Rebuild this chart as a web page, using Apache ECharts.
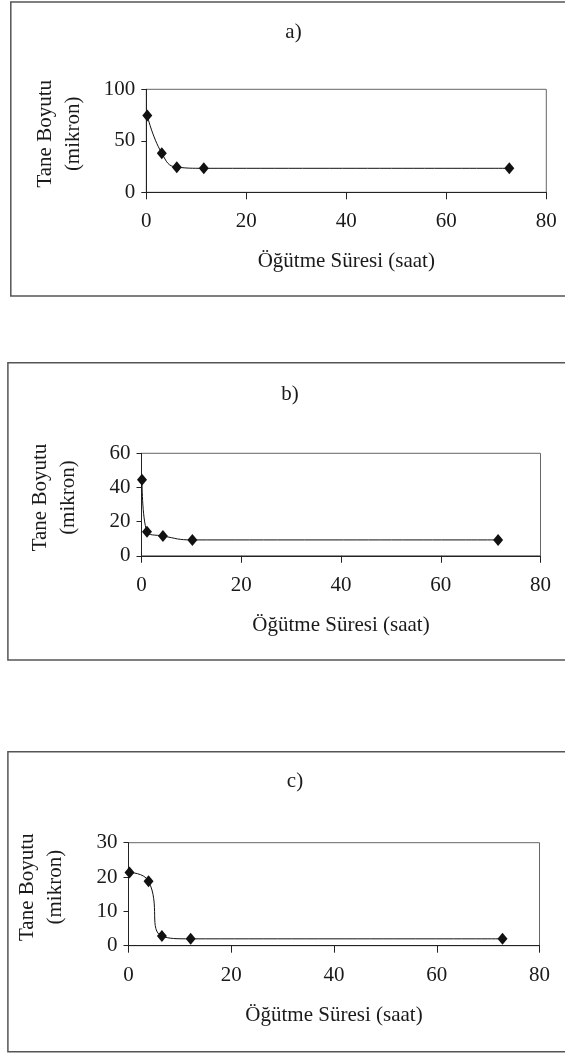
<!DOCTYPE html>
<html>
<head>
<meta charset="utf-8">
<script src="https://cdn.jsdelivr.net/npm/echarts@6/dist/echarts.min.js"></script>
<style>
html,body{margin:0;padding:0;background:#fff;}
#chart{width:565px;height:1057px;}
</style>
</head>
<body>
<div id="chart"></div>
<script>
// ---- data ----
const panelTitles = ['a)', 'b)', 'c)'];
const xName = 'Öğütme Süresi (saat)';
const yName = 'Tane Boyutu\n(mikron)';
const xTicks = [0, 20, 40, 60, 80];
const yMaxA = 100, yStepA = 50;
const yMaxB = 60, yStepB = 20;
const yMaxC = 30, yStepC = 10;
const timeA = [0.2, 3.1, 6.1, 11.5, 72.6];
const sizeA = [74.5, 37.9, 24.4, 23.3, 23.3];
const timeB = [0.1, 1.1, 4.3, 10.2, 71.5];
const sizeB = [44.5, 14.1, 11.6, 9.3, 9.3];
const timeC = [0.2, 3.9, 6.5, 12.1, 72.8];
const sizeC = [21.3, 18.8, 2.8, 2.0, 2.0];

const FONT = 'Liberation Serif';
const FS = 21;
const TXT = '#1a1a1a';

const grids = [
  {left: 146.3, top: 89.3, width: 400, height: 103},
  {left: 141.5, top: 453.3, width: 399, height: 102.5},
  {left: 128.5, top: 842.7, width: 411, height: 103}
];
const yMax = [yMaxA, yMaxB, yMaxC];
const yStep = [yStepA, yStepB, yStepC];
const xs = [timeA, timeB, timeC];
const ys = [sizeA, sizeB, sizeC];
const titleCenters = [[293.5, 22], [290, 384], [295, 771]];
const frames = [
  {x: 10.8, y: 2, h: 294},
  {x: 7.9, y: 362.7, h: 297.3},
  {x: 7.9, y: 751.7, h: 300}
];

const option = {
  animation: false,
  backgroundColor: '#fff',
  title: panelTitles.map((t, i) => ({
    text: t, left: titleCenters[i][0], top: titleCenters[i][1], textAlign: 'center', padding: 0,
    textStyle: {fontFamily: FONT, fontSize: FS, fontWeight: 'normal', color: TXT}
  })),
  grid: grids.map(g => Object.assign({show: true, borderColor: '#666', borderWidth: 1, backgroundColor: 'transparent'}, g)),
  xAxis: grids.map((g, i) => ({
    type: 'value', gridIndex: i, min: xTicks[0], max: xTicks[xTicks.length - 1], interval: 20,
    name: xName, nameLocation: 'middle', nameGap: 59,
    nameTextStyle: {fontFamily: FONT, fontSize: FS, color: TXT},
    axisLine: {show: true, onZero: false, lineStyle: {color: '#222', width: 1}},
    axisTick: {show: true, inside: false, length: 7, lineStyle: {color: '#222'}},
    axisLabel: {fontFamily: FONT, fontSize: FS, color: TXT, margin: 19},
    splitLine: {show: false}
  })),
  yAxis: grids.map((g, i) => ({
    type: 'value', gridIndex: i, min: 0, max: yMax[i], interval: yStep[i],
    name: yName, nameLocation: 'middle', nameGap: 59, nameRotate: 90,
    nameTextStyle: {fontFamily: FONT, fontSize: FS, color: TXT, lineHeight: 28, padding: [0, 0, 0, 14]},
    axisLine: {show: true, lineStyle: {color: '#222', width: 1}},
    axisTick: {show: true, inside: false, length: 5, lineStyle: {color: '#222'}},
    axisLabel: {fontFamily: FONT, fontSize: FS, color: TXT, margin: 11},
    splitLine: {show: false}
  })),
  series: grids.map((g, i) => ({
    type: 'line', xAxisIndex: i, yAxisIndex: i,
    data: xs[i].map((x, j) => [x, ys[i][j]]),
    smooth: 0.5,
    symbol: 'diamond', symbolSize: [10, 12],
    lineStyle: {color: '#111', width: 1},
    itemStyle: {color: '#111'}
  })),
  graphic: frames.map(f => ({
    type: 'rect', shape: {x: f.x, y: f.y, width: 600, height: f.h},
    style: {fill: 'none', stroke: '#555', lineWidth: 1.5}, silent: true, z: -1
  }))
};

const chart = echarts.init(document.getElementById('chart'), null, {renderer: 'canvas'});
chart.setOption(option);
</script>
</body>
</html>
